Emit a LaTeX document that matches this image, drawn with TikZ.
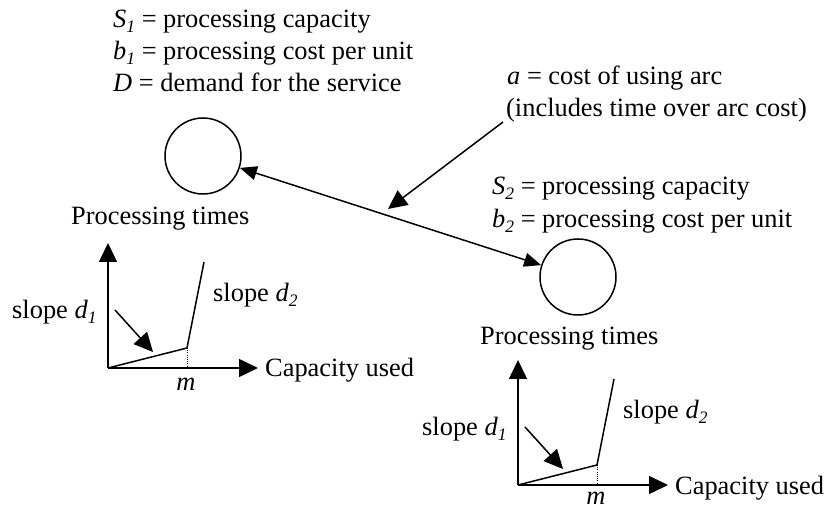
\documentclass[tikz,border=0pt]{standalone}
\usepackage{fontspec}
\setmainfont{Liberation Serif}
\usetikzlibrary{arrows.meta}
\newcommand\mysub[1]{\raisebox{-5pt}{\fontsize{17.5}{17.5}\selectfont\itshape #1}}
\begin{document}
\begin{tikzpicture}[x=1pt,y=-1pt,
  font=\fontsize{26.4}{32}\selectfont,
  lbl/.style={anchor=base west, inner sep=0pt},
  lblc/.style={anchor=base, inner sep=0pt},
  proc/.style={circle, draw, line width=1.5pt, minimum size=76pt, inner sep=0pt},
  ln/.style={line width=1.5pt},
  arr/.style={ln, -{Triangle[length=19pt,width=18pt]}},
  darr/.style={ln, {Triangle[length=17pt,width=14pt]}-{Triangle[length=17pt,width=14pt]}},
  dots/.style={line width=0.9pt, dash pattern=on 1pt off 1.2pt}]
\useasboundingbox (0,0) rectangle (825,510);

% top-left text
\node[lbl] (s1) at (113,28) {\textit{S}\mysub{1} = processing capacity};
\node[lbl] (b1) at (113,60) {\textit{b}\mysub{1} = processing cost per unit};
\node[lbl] (dd) at (113,92) {\textit{D} = demand for the service};

% arc text
\node[lbl] (a1) at (507,85) {\textit{a} = cost of using arc};
\node[lbl] (a2) at (506,117) {(includes time over arc cost)};

% second node text
\node[lbl] (s2) at (492,195) {\textit{S}\mysub{2} = processing capacity};
\node[lbl] (b2) at (492,228) {\textit{b}\mysub{2} = processing cost per unit};

% nodes
\node[proc] (c1) at (203,156) {};
\node[proc] (c2) at (578,277) {};
\node[lbl] (pt1) at (71,225) {Processing times};
\node[lbl] (pt2) at (480,345) {Processing times};

% arc
\draw[darr] (c1) -- (c2);
\coordinate (pa) at (503,122);
\coordinate (pb) at (388,209);
\draw[arr] (pa) -- (pb);

% graphs
\foreach \i/\dx/\dy/\my in {1/0/0/391, 2/410/117/387}{
\begin{scope}[shift={(\dx,\dy)}]
  \coordinate (o\i) at (108,368);
  \coordinate (y\i) at (108,243);
  \coordinate (x\i) at (258,368);
  \coordinate (k\i) at (187,348);
  \coordinate (t\i) at (204,262);
  \coordinate (f\i) at (187,368);
  \coordinate (p\i) at (115,310);
  \coordinate (q\i) at (153,352);
  \draw[arr] (o\i) -- (y\i);
  \draw[arr] (o\i) -- (x\i);
  \draw[ln] (o\i) -- (k\i) -- (t\i);
  \draw[dots] (k\i) -- (f\i);
  \draw[arr] (p\i) -- (q\i);
  \node[lbl] (sa\i) at (12,319) {slope \textit{d}\mysub{1}};
  \node[lbl] (sb\i) at (213,302) {slope \textit{d}\mysub{2}};
  \node[lblc] (m\i) at (186,\my) {\textit{m}};
  \node[lbl] (cu\i) at (265,377) {Capacity used};
\end{scope}
}
\end{tikzpicture}
\end{document}
